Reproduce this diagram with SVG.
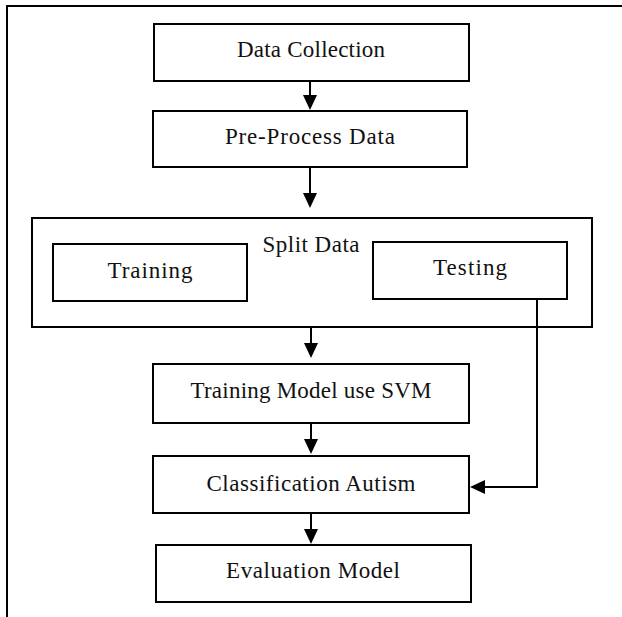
<svg xmlns="http://www.w3.org/2000/svg" width="622" height="617" viewBox="0 0 622 617">
<style>
.box{fill:#fff;stroke:#000;stroke-width:2}
.frame{fill:none;stroke:#000;stroke-width:2}
.lbl{font-family:"Liberation Serif","DejaVu Serif",serif;font-size:23px;fill:#111;text-anchor:middle}
.con{fill:none;stroke:#000;stroke-width:2}
.head{fill:#000;stroke:none}
</style>
<rect width="622" height="617" fill="#fff"/>
<g id="frame"><path class="frame" d="M7,617 V6 H622"/></g>
<g id="data-collection"><rect class="box" x="154" y="24" width="315" height="57"/><text class="lbl" x="311" y="57" textLength="148">Data Collection</text></g>
<g id="pre-process"><rect class="box" x="153" y="111" width="314" height="56"/><text class="lbl" x="310" y="144" textLength="170">Pre-Process Data</text></g>
<g id="split-data"><rect class="box" x="32" y="218" width="560" height="109"/><text class="lbl" x="311" y="252" textLength="97">Split Data</text></g>
<g id="training"><rect class="box" x="53" y="244" width="194" height="57"/><text class="lbl" x="150" y="278" textLength="85">Training</text></g>
<g id="testing"><rect class="box" x="373" y="242" width="194" height="57"/><text class="lbl" x="470" y="275" textLength="74">Testing</text></g>
<g id="training-model"><rect class="box" x="153" y="364" width="316" height="59"/><text class="lbl" x="311" y="398" textLength="241">Training Model use SVM</text></g>
<g id="classification"><rect class="box" x="153" y="456" width="316" height="57"/><text class="lbl" x="311" y="491" textLength="209">Classification Autism</text></g>
<g id="evaluation"><rect class="box" x="156" y="545" width="315" height="57"/><text class="lbl" x="313" y="578" textLength="174">Evaluation Model</text></g>
<g id="connectors">
<line class="con" x1="310" y1="81" x2="310" y2="96"/><polygon class="head" points="303,95 317,95 310,110"/>
<line class="con" x1="310" y1="167" x2="310" y2="194"/><polygon class="head" points="303,193 317,193 310,208"/>
<line class="con" x1="311" y1="327" x2="311" y2="344"/><polygon class="head" points="304,343 318,343 311,358"/>
<line class="con" x1="311" y1="423" x2="311" y2="440"/><polygon class="head" points="304,439 318,439 311,454"/>
<line class="con" x1="311" y1="513" x2="311" y2="530"/><polygon class="head" points="304,529 318,529 311,544"/>
<path class="con" d="M537,299 V487 H484"/><polygon class="head" points="485,480 485,494 470,487"/>
</g>
</svg>
